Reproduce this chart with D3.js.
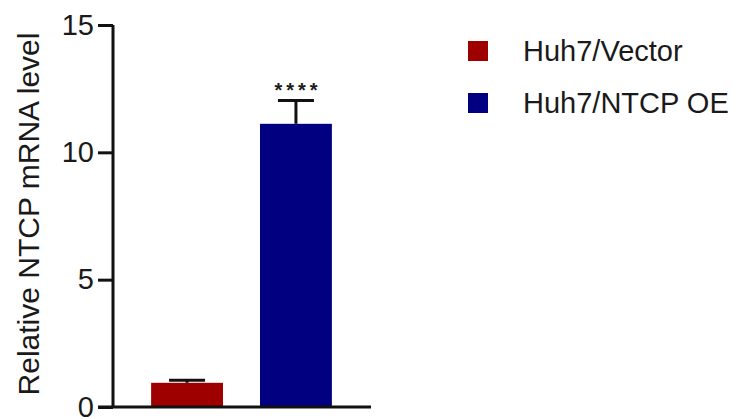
<!DOCTYPE html>
<html>
<head>
<meta charset="utf-8">
<script src="https://cdn.jsdelivr.net/npm/d3@7"></script>
<style>
  body { margin: 0; background: #fff; }
  text { font-family: "Liberation Sans", Arial, sans-serif; fill: #1a1a1a; }
</style>
</head>
<body>
<div id="chart"></div>
<script>
var groups = ["Huh7/Vector", "Huh7/NTCP OE"];
var means = [0.95, 11.12];
var errors = [0.1, 0.92];
var colors = ["#9e0000", "#000080"];
var marks = ["", "****"];
var yTicks = [0, 5, 10, 15];

var svg = d3.select("#chart").append("svg")
            .attr("width", 743)
            .attr("height", 419);

var x = d3.scaleBand()
          .domain(groups)
          .range([113, 370])
          .paddingInner(0.34)
          .paddingOuter(0.35);

var y = d3.scaleLinear()
          .domain([0, 15])
          .range([407, 25]);

// bars
svg.selectAll("rect.bar")
   .data(groups)
   .enter().append("rect")
   .attr("class", "bar")
   .attr("x", function(d) { return x(d); })
   .attr("width", x.bandwidth())
   .attr("y", function(d, i) { return y(means[i]); })
   .attr("height", function(d, i) { return y(0) - y(means[i]); })
   .style("fill", function(d, i) { return colors[i]; });

// error bars (upper only)
groups.forEach(function(g, i) {
  var cx = x(g) + x.bandwidth() / 2;
  var top = y(means[i] + errors[i]);
  svg.append("line")
     .attr("x1", cx).attr("x2", cx)
     .attr("y1", y(means[i])).attr("y2", top)
     .attr("stroke", "#111").attr("stroke-width", 3);
  svg.append("line")
     .attr("x1", cx - 18).attr("x2", cx + 18)
     .attr("y1", top).attr("y2", top)
     .attr("stroke", "#111").attr("stroke-width", 3);
  if (marks[i]) {
    svg.append("text")
       .attr("x", cx + 2)
       .attr("y", top - 3)
       .attr("text-anchor", "middle")
       .attr("font-size", "20px")
       .attr("font-weight", "bold")
       .attr("letter-spacing", "4px")
       .text(marks[i]);
  }
});

// y axis
var yAxis = svg.append("g")
   .attr("transform", "translate(113,0)")
   .call(d3.axisLeft(y).tickValues(yTicks).tickSize(15).tickPadding(4));
yAxis.select(".domain").attr("stroke", "#111").attr("stroke-width", 3)
     .attr("d", "M0," + y(15) + "V" + y(0));
yAxis.selectAll(".tick line").attr("stroke", "#111").attr("stroke-width", 3);
yAxis.selectAll(".tick text")
     .attr("font-size", "29px")
     .attr("font-family", "Liberation Sans, Arial, sans-serif")
     .attr("fill", "#1a1a1a");

// x axis line
svg.append("line")
   .attr("x1", 98).attr("x2", 371)
   .attr("y1", y(0)).attr("y2", y(0))
   .attr("stroke", "#111").attr("stroke-width", 3);

// y label
svg.append("text")
   .attr("transform", "translate(39,214) rotate(-90)")
   .attr("text-anchor", "middle")
   .attr("font-size", "30px")
   .text("Relative NTCP mRNA level");

// legend
var legend = svg.selectAll("g.legend")
   .data(groups)
   .enter().append("g")
   .attr("class", "legend")
   .attr("transform", function(d, i) { return "translate(468," + (41 + i * 52) + ")"; });

legend.append("rect")
   .attr("width", 20).attr("height", 20)
   .style("fill", function(d, i) { return colors[i]; });

legend.append("text")
   .attr("x", 55)
   .attr("y", 20)
   .attr("font-size", "29px")
   .text(function(d) { return d; });
</script>
</body>
</html>
